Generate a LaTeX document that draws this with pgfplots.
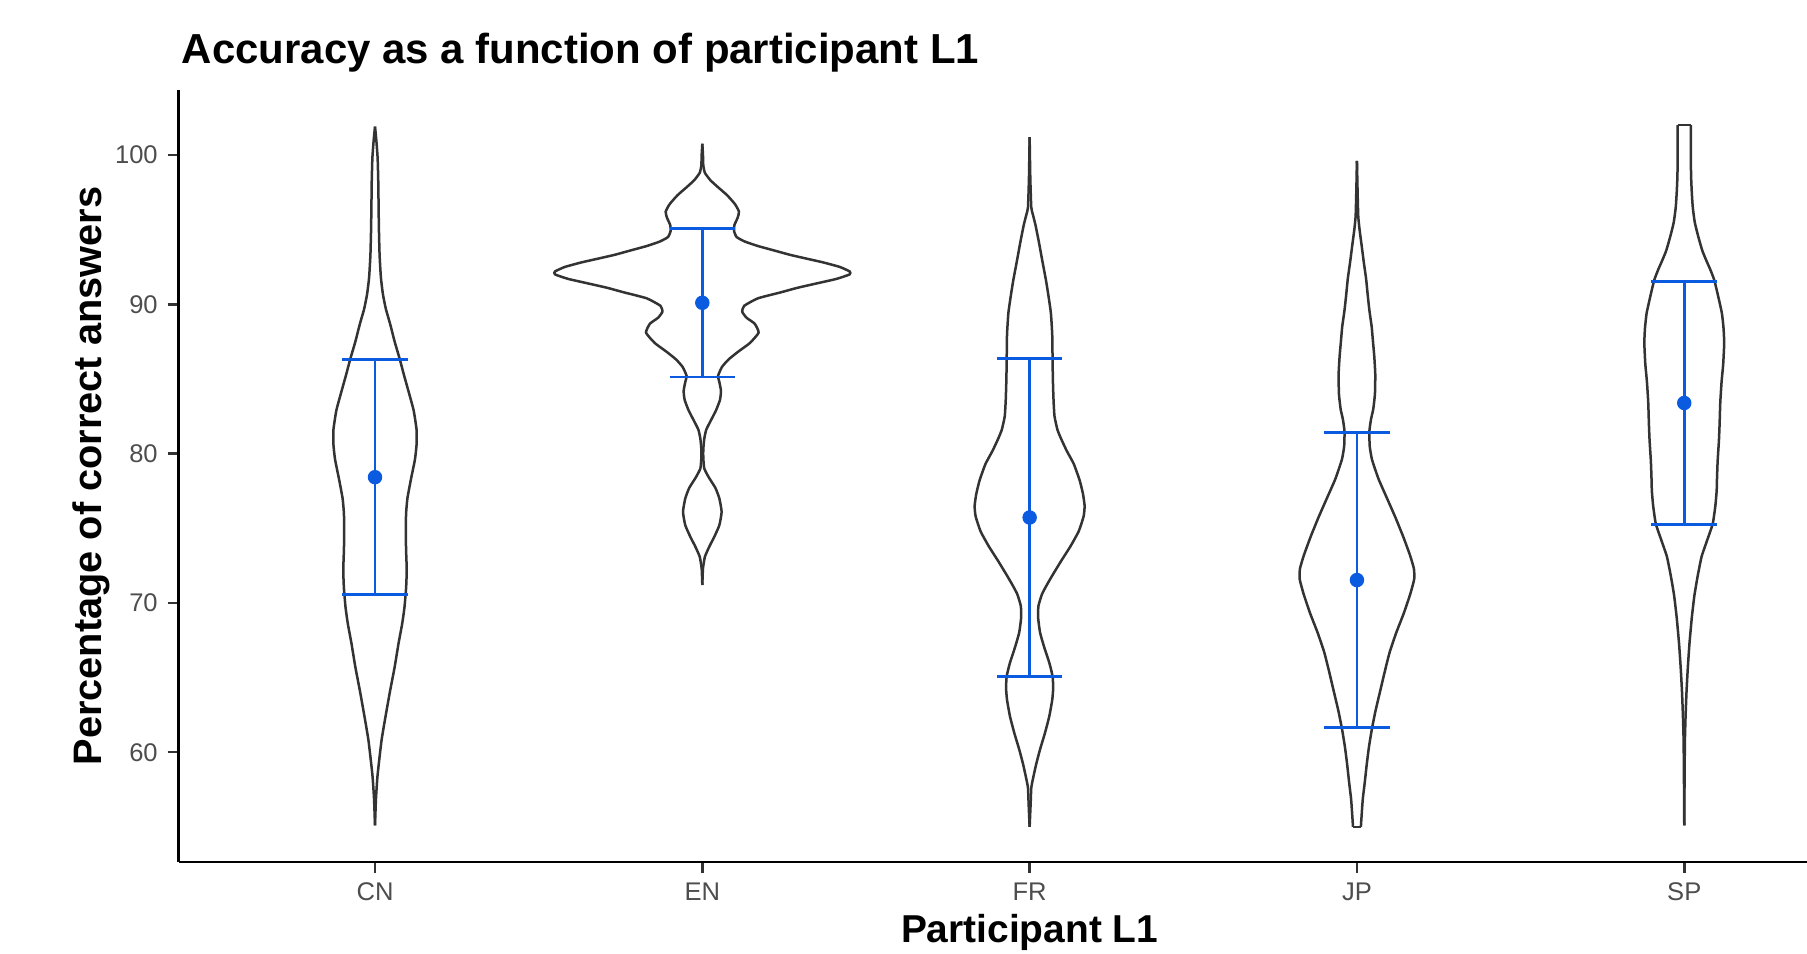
\documentclass[border=0pt]{standalone}
\usepackage{fontspec}
\setmainfont{Liberation Sans}
\usepackage{pgfplots}
\pgfplotsset{compat=1.18}
\usepackage{pgfplotstable}

\definecolor{errblue}{HTML}{0A5BE0}
\definecolor{vline}{HTML}{333333}
\definecolor{ticktext}{HTML}{4D4D4D}

% violin outlines: y value, half width (x units)
\pgfplotstableread{
y hw
55.1 0
56.9 0.003
58.5 0.008
60.8 0.020
62.5 0.033
64.1 0.046
65.7 0.060
67.3 0.072
68.6 0.083
69.7 0.090
71.0 0.095
72.2 0.097
73.5 0.095
74.8 0.094
76.0 0.095
77.0 0.099
78.3 0.110
79.6 0.122
80.6 0.127
81.6 0.127
82.9 0.118
84.2 0.102
85.3 0.088
86.3 0.076
87.5 0.060
88.7 0.046
89.7 0.033
90.7 0.024
91.8 0.018
93.3 0.014
95.0 0.012
96.5 0.011
98.2 0.010
99.8 0.008
101.0 0.004
101.9 0
}\cnviolin

\pgfplotstableread{
y hw
71.2 0
72.3 0.002
73.1 0.008
73.8 0.022
74.4 0.036
75.2 0.052
76.1 0.059
77.0 0.052
77.7 0.040
78.4 0.020
79.0 0.006
79.7 0.003
80.3 0.003
81.0 0.006
81.6 0.012
82.3 0.028
82.9 0.042
83.6 0.054
84.2 0.057
84.8 0.052
85.2 0.048
85.8 0.060
86.3 0.080
86.8 0.108
87.4 0.145
88.1 0.172
88.7 0.160
89.1 0.135
89.5 0.122
89.9 0.128
90.4 0.170
90.8 0.240
91.1 0.290
91.4 0.350
91.7 0.410
92.0 0.450
92.2 0.450
92.5 0.420
92.8 0.370
93.0 0.330
93.3 0.270
93.6 0.220
93.9 0.170
94.2 0.130
94.5 0.105
94.9 0.097
95.3 0.098
95.8 0.108
96.2 0.112
96.7 0.100
97.3 0.076
97.8 0.050
98.3 0.025
98.8 0.008
99.3 0.003
100.0 0.002
100.75 0
}\enviolin

\pgfplotstableread{
y hw
55.0 0
56.5 0.003
57.6 0.005
58.2 0.010
59.2 0.020
60.2 0.032
61.3 0.047
62.4 0.060
63.5 0.069
64.3 0.072
65.1 0.070
66.0 0.060
67.0 0.045
68.0 0.032
69.0 0.026
69.8 0.027
70.6 0.038
71.3 0.055
71.9 0.071
72.8 0.096
73.8 0.125
74.8 0.150
75.8 0.165
76.5 0.168
77.3 0.163
78.2 0.153
79.3 0.135
80.2 0.113
81.0 0.096
81.6 0.085
82.5 0.076
83.6 0.073
85.0 0.071
86.5 0.070
88.0 0.069
89.4 0.065
90.5 0.058
91.6 0.050
93.0 0.038
94.2 0.028
95.3 0.018
96.0 0.010
96.5 0.005
98.5 0.002
101.2 0
}\frviolin

\pgfplotstableread{
y hw
55.0 0.012
56.0 0.015
56.9 0.018
58.0 0.024
59.2 0.030
60.4 0.037
61.6 0.046
62.8 0.057
64.1 0.071
65.4 0.085
66.7 0.100
68.0 0.120
69.3 0.143
70.6 0.163
71.6 0.175
72.3 0.174
73.2 0.162
74.4 0.142
75.7 0.118
77.0 0.092
78.3 0.066
79.6 0.046
80.5 0.039
81.5 0.038
82.3 0.043
83.0 0.050
84.0 0.055
85.3 0.056
86.5 0.053
87.5 0.049
88.5 0.045
89.6 0.038
90.6 0.033
91.7 0.028
92.8 0.021
94.0 0.014
95.0 0.008
95.9 0.004
97.5 0.002
99.6 0
}\jpviolin

\pgfplotstableread{
y hw
55.1 0
58.5 0.001
60.8 0.002
62.4 0.004
64.1 0.007
65.7 0.011
67.3 0.016
69.0 0.023
70.5 0.031
71.8 0.041
73.1 0.053
74.2 0.070
75.3 0.087
76.5 0.095
77.5 0.099
78.3 0.100
79.5 0.102
80.9 0.106
82.0 0.108
83.4 0.110
84.8 0.114
86.0 0.119
87.4 0.122
88.4 0.120
89.4 0.115
90.5 0.104
91.6 0.092
92.3 0.080
92.9 0.068
93.6 0.055
94.6 0.042
95.5 0.032
96.5 0.026
97.5 0.023
98.5 0.021
99.8 0.020
101.0 0.020
102.0 0.020
}\spviolin

\pgfplotsset{vln/.style={vline, line width=0.9pt, smooth, tension=0.3, no marks}}

\begin{document}
\begin{tikzpicture}
\useasboundingbox (-64.3pt,-32.8pt) rectangle (586.2pt,310.3pt);
\begin{axis}[
  at={(0,0)}, anchor=south west,
  scale only axis,
  width=586.2pt, height=277.9pt,
  xmin=0.4, xmax=5.375,
  ymin=52.65, ymax=104.35,
  axis x line*=bottom, axis y line*=left,
  axis line style={line width=0.95pt, black},
  xtick={1,2,3,4,5},
  xticklabels={CN,EN,FR,JP,SP},
  ytick={60,70,80,90,100},
  tick align=outside,
  major tick length=4pt,
  tick style={line width=0.9pt, vline},
  /pgf/number format/assume math mode=true,
  ticklabel style={font=\fontsize{9.2}{11}\selectfont, text=ticktext},
  clip=false,
]
  % CN
  \addplot[vln] table[x expr=1+\thisrow{hw}, y=y] {\cnviolin};
  \addplot[vln] table[x expr=1-\thisrow{hw}, y=y] {\cnviolin};
  % EN
  \addplot[vln] table[x expr=2+\thisrow{hw}, y=y] {\enviolin};
  \addplot[vln] table[x expr=2-\thisrow{hw}, y=y] {\enviolin};
  % FR
  \addplot[vln] table[x expr=3+\thisrow{hw}, y=y] {\frviolin};
  \addplot[vln] table[x expr=3-\thisrow{hw}, y=y] {\frviolin};
  % JP
  \addplot[vln] table[x expr=4+\thisrow{hw}, y=y] {\jpviolin};
  \addplot[vln] table[x expr=4-\thisrow{hw}, y=y] {\jpviolin};
  \addplot[vln] coordinates {(3.988,55.0) (4.012,55.0)};
  % SP
  \addplot[vln] table[x expr=5+\thisrow{hw}, y=y] {\spviolin};
  \addplot[vln] table[x expr=5-\thisrow{hw}, y=y] {\spviolin};
  \addplot[vln] coordinates {(4.98,102.0) (5.02,102.0)};

  % means with error bars
  \addplot[only marks, mark=*, mark size=2.4pt, color=errblue,
    mark options={fill=errblue, draw=errblue},
    error bars/.cd, y dir=both, y explicit,
    error bar style={line width=1pt, errblue},
    error mark=|,
    error mark options={line width=1pt, errblue, mark size=11.8pt}]
    coordinates {
      (1,78.42) +- (0,7.86)
      (2,90.10) +- (0,4.97)
      (3,75.72) +- (0,10.64)
      (4,71.53) +- (0,9.90)
      (5,83.39) +- (0,8.13)
    };

  \node[anchor=base west, inner sep=0pt, xshift=1pt, yshift=9.6pt,
        font=\fontsize{15.1}{18}\selectfont\bfseries]
    at (rel axis cs:0,1) {Accuracy as a function of participant L1};
  \node[anchor=base, inner sep=0pt, yshift=-29pt, font=\fontsize{14}{17}\selectfont\bfseries]
    at (rel axis cs:0.5226,0) {Participant L1};
  \node[anchor=base, inner sep=0pt, rotate=90, font=\fontsize{14.3}{17}\selectfont\bfseries]
    at ([xshift=-27.8pt]rel axis cs:0,0.5) {Percentage of correct answers};
\end{axis}
\end{tikzpicture}
\end{document}
